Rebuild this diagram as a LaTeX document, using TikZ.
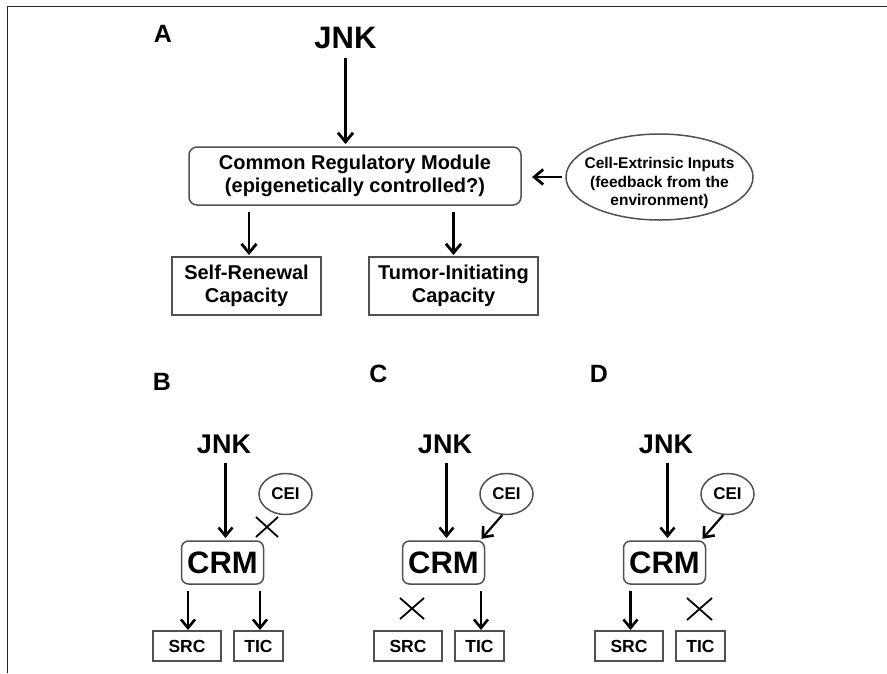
\documentclass[tikz,border=0pt]{standalone}
\usepackage{fontspec}
\setmainfont{Liberation Sans}
\usetikzlibrary{arrows.meta,shapes.geometric}
\definecolor{boxgray}{RGB}{80,80,80}
\begin{document}
\begin{tikzpicture}[x=1pt,y=-1pt,
  every node/.style={inner sep=0pt, outer sep=0pt, text=black},
  lab/.style={font=\fontsize{25}{30}\selectfont\bfseries},
  jnkbig/.style={font=\fontsize{31}{37}\selectfont\bfseries},
  jnksmall/.style={font=\fontsize{27}{32}\selectfont\bfseries},
  arr/.style={line width=2.4pt, -{Straight Barb[length=9pt,width=15pt,line width=2.8pt]}},
  sarr/.style={line width=2.2pt, -{Straight Barb[length=8.5pt,width=14pt,line width=2.6pt]}},
  bigbox/.style={draw=boxgray, line width=1.5pt, align=center,
     font=\fontsize{20}{23}\selectfont\bfseries},
  crmbox/.style={draw=boxgray, line width=1.5pt, rounded corners=7pt,
     minimum width=82pt, minimum height=43pt,
     font=\fontsize{31}{37}\selectfont\bfseries},
  ceinode/.style={draw=boxgray, line width=1.5pt, ellipse,
     minimum width=53pt, minimum height=41pt,
     font=\fontsize{17}{20}\selectfont\bfseries},
  smallbox/.style={draw=boxgray, line width=1.5pt, minimum height=30pt,
     font=\fontsize{17.5}{21}\selectfont\bfseries},
  crossmark/.style={line width=1.8pt, draw=black}
]
\useasboundingbox (0,0) rectangle (887,673);
% frame
\draw[line width=1.6pt, black!85] (7.5,673) -- (7.5,6.5) -- (887,6.5);

% ---------- Panel A ----------
\node[lab] (labA) at (163,34) {A};
\node[jnkbig] (jnkA) at (345.5,37.5) {JNK};
\node[bigbox, rounded corners=8pt, minimum width=332pt, minimum height=58pt] (crmA) at (355,176)
  {Common Regulatory Module\\(epigenetically controlled?)};
\node[bigbox, minimum width=149pt, minimum height=58pt] (srcA) at (246.5,286)
  {Self-Renewal\\Capacity};
\node[bigbox, minimum width=169pt, minimum height=58pt] (ticA) at (453.5,286)
  {Tumor-Initiating\\Capacity};
\node[draw=boxgray, line width=1.5pt, ellipse,
  minimum width=187pt, minimum height=86pt] (ceiA) at (659.5,177) {};
\node[align=center, font=\fontsize{15.5}{18.5}\selectfont\bfseries] (ceiAtext)
  at ([yshift=-6pt]ceiA.center) {Cell-Extrinsic Inputs\\(feedback from the\\environment)};

\draw[arr, shorten <=10pt, shorten >=3pt] (jnkA.south) -- (jnkA.south |- crmA.north);
\draw[arr, shorten <=7pt, shorten >=2pt] ([xshift=2.5pt]srcA.north |- crmA.south) -- ([xshift=2.5pt]srcA.north);
\draw[arr, shorten <=7pt, shorten >=2pt] (ticA.north |- crmA.south) -- (ticA.north);
\draw[arr, shorten <=4pt, shorten >=11pt] (ceiA.west) -- (ceiA.west -| crmA.east);

% ---------- Panel B ----------
\node[lab] (labB) at (162,382) {B};
\node[jnksmall] (jnkB) at (224,444.5) {JNK};
\node[crmbox] (crmB) at (222.5,562.5) {CRM};
\node[ceinode] (ceiB) at (285.5,494) {CEI};
\node[smallbox, minimum width=68pt] (srcB) at (187,646) {SRC};
\node[smallbox, minimum width=49pt] (ticB) at (258.5,646) {TIC};
\draw[sarr, shorten <=9pt, shorten >=3pt] ([xshift=1.5pt]jnkB.south) -- ([xshift=1.5pt]jnkB.south |- crmB.north);
\draw[sarr, shorten <=7pt, shorten >=1pt] ([xshift=1pt]srcB.north |- crmB.south) -- ([xshift=1pt]srcB.north);
\draw[sarr, shorten <=7pt, shorten >=1pt] ([xshift=1.5pt]ticB.north |- crmB.south) -- ([xshift=1.5pt]ticB.north);
\coordinate (xB) at (267,527);
\draw[crossmark, shift={(xB)}] (-11,10) -- (11,-10) (-11,-10) -- (11,10);

% ---------- Panel C ----------
\begin{scope}[shift={(221,0)}]
\node[lab] (labC) at (157.5,374) {C};
\node[jnksmall] (jnkC) at (224,444.5) {JNK};
\node[crmbox] (crmC) at (222.5,562.5) {CRM};
\node[ceinode] (ceiC) at (285.5,494) {CEI};
\node[smallbox, minimum width=68pt] (srcC) at (187,646) {SRC};
\node[smallbox, minimum width=49pt] (ticC) at (258.5,646) {TIC};
\draw[sarr, shorten <=9pt, shorten >=3pt] ([xshift=1.5pt]jnkC.south) -- ([xshift=1.5pt]jnkC.south |- crmC.north);
\draw[sarr, shorten <=7pt, shorten >=1pt] ([xshift=1.5pt]ticC.north |- crmC.south) -- ([xshift=1.5pt]ticC.north);
\draw[sarr, shorten <=1pt, shorten >=3pt] (ceiC.-100) -- ([xshift=-5pt]crmC.north east);
\coordinate (xC) at (191,608.5);
\draw[crossmark, shift={(xC)}] (-12,10.5) -- (12,-10.5) (-12,-10.5) -- (12,10.5);
\end{scope}

% ---------- Panel D ----------
\begin{scope}[shift={(442,0)}]
\node[lab] (labD) at (157,374) {D};
\node[jnksmall] (jnkD) at (224,444.5) {JNK};
\node[crmbox] (crmD) at (222.5,562.5) {CRM};
\node[ceinode] (ceiD) at (285.5,494) {CEI};
\node[smallbox, minimum width=68pt] (srcD) at (187,646) {SRC};
\node[smallbox, minimum width=49pt] (ticD) at (258.5,646) {TIC};
\draw[sarr, shorten <=9pt, shorten >=3pt] ([xshift=1.5pt]jnkD.south) -- ([xshift=1.5pt]jnkD.south |- crmD.north);
\draw[sarr, shorten <=7pt, shorten >=1pt] ([xshift=1.5pt]srcD.north |- crmD.south) -- ([xshift=1.5pt]srcD.north);
\draw[sarr, shorten <=1pt, shorten >=3pt] (ceiD.-100) -- ([xshift=-5pt]crmD.north east);
\coordinate (xD) at (257.5,609);
\draw[crossmark, shift={(xD)}] (-12.5,11) -- (12.5,-11) (-12.5,-11) -- (12.5,11);
\end{scope}
\end{tikzpicture}
\end{document}
